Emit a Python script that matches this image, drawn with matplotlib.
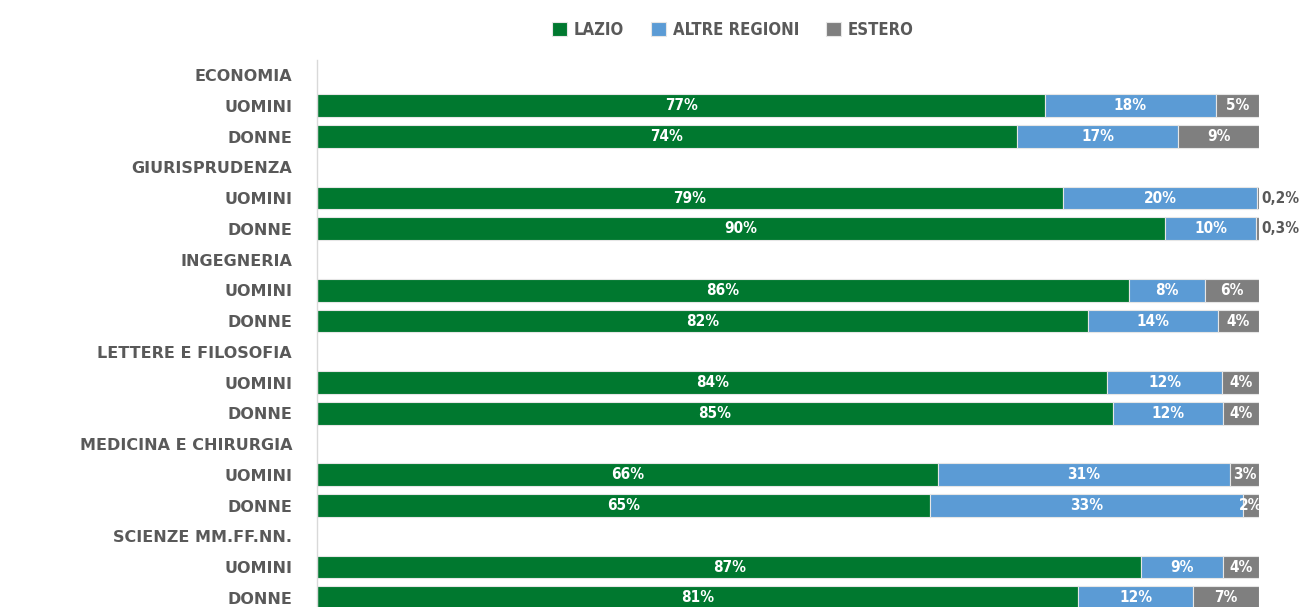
import numpy as np
import matplotlib.pyplot as plt

# righe del grafico (intestazioni di facolta e sottorighe uomini/donne)
righe = ['ECONOMIA', 'UOMINI', 'DONNE',
         'GIURISPRUDENZA', 'UOMINI', 'DONNE',
         'INGEGNERIA', 'UOMINI', 'DONNE',
         'LETTERE E FILOSOFIA', 'UOMINI', 'DONNE',
         'MEDICINA E CHIRURGIA', 'UOMINI', 'DONNE',
         'SCIENZE MM.FF.NN.', 'UOMINI', 'DONNE']

# indici delle righe che hanno una barra
righe_barre = [1, 2, 4, 5, 7, 8, 10, 11, 13, 14, 16, 17]

lazio = [77.3, 74.3, 79.2, 90.0, 86.2, 81.8, 83.9, 84.5, 65.9, 65.1, 87.5, 80.8]
altre = [18.1, 17.1, 20.6, 9.7, 8.1, 13.8, 12.2, 11.7, 31.0, 33.2, 8.7, 12.2]
estero = [4.6, 8.6, 0.2, 0.3, 5.7, 4.4, 3.9, 3.8, 3.1, 1.7, 3.8, 7.0]

lab_lazio = ['77%', '74%', '79%', '90%', '86%', '82%', '84%', '85%', '66%', '65%', '87%', '81%']
lab_altre = ['18%', '17%', '20%', '10%', '8%', '14%', '12%', '12%', '31%', '33%', '9%', '12%']
lab_estero = ['5%', '9%', '0,2%', '0,3%', '6%', '4%', '4%', '4%', '3%', '2%', '4%', '7%']

serie = ['LAZIO', 'ALTRE REGIONI', 'ESTERO']
colori = ['#00782F', '#5B9BD5', '#7F7F7F']
grigio_testo = '#595959'

fig = plt.figure(figsize=(13.04, 6.07), dpi=100)
ax = fig.add_axes([317/1304, 0, 942/1304, (607-60)/607])

y = np.array(righe_barre)
lazio = np.array(lazio)
altre = np.array(altre)
estero = np.array(estero)
h = 0.74

b1 = ax.barh(y, lazio, height=h, color=colori[0], edgecolor='#E6E6E6', linewidth=0.8, label=serie[0])
b2 = ax.barh(y, altre, left=lazio, height=h, color=colori[1], edgecolor='#E6E6E6', linewidth=0.8, label=serie[1])
b3 = ax.barh(y, estero, left=lazio+altre, height=h, color=colori[2], edgecolor='#E6E6E6', linewidth=0.8, label=serie[2])

fs = 11
for i in range(len(y)):
    ax.text(lazio[i]/2, y[i], lab_lazio[i], ha='center', va='center', color='white',
            fontsize=fs, fontweight='bold', fontstretch='condensed')
    ax.text(lazio[i] + altre[i]/2, y[i], lab_altre[i], ha='center', va='center', color='white',
            fontsize=fs, fontweight='bold', fontstretch='condensed')
    if estero[i] < 1:
        ax.text(100.3, y[i], lab_estero[i], ha='left', va='center', color=grigio_testo,
                fontsize=fs, fontweight='bold', fontstretch='condensed')
    else:
        ax.text(lazio[i] + altre[i] + estero[i]/2, y[i], lab_estero[i], ha='center', va='center',
                color='white', fontsize=fs, fontweight='bold', fontstretch='condensed')

ax.set_xlim(0, 100)
ax.set_ylim(17.3, -0.49)
ax.set_yticks(range(len(righe)))
ax.set_yticklabels(righe, fontsize=11.5, fontweight='bold', color=grigio_testo)
ax.tick_params(axis='y', length=0, pad=18)
ax.set_xticks([])
for s in ['top', 'right', 'bottom']:
    ax.spines[s].set_visible(False)
ax.spines['left'].set_color('#D9D9D9')
ax.spines['left'].set_linewidth(1)

leg = fig.legend(handles=[b1, b2, b3], labels=serie, loc='upper center', bbox_to_anchor=(0.562, 0.99),
                 ncol=3, frameon=False, handlelength=0.9, handleheight=0.9, handletextpad=0.4,
                 columnspacing=1.6, prop={'weight': 'bold', 'size': 12, 'stretch': 'condensed'})
for t in leg.get_texts():
    t.set_color(grigio_testo)

fig.savefig('out.png', dpi=100)
